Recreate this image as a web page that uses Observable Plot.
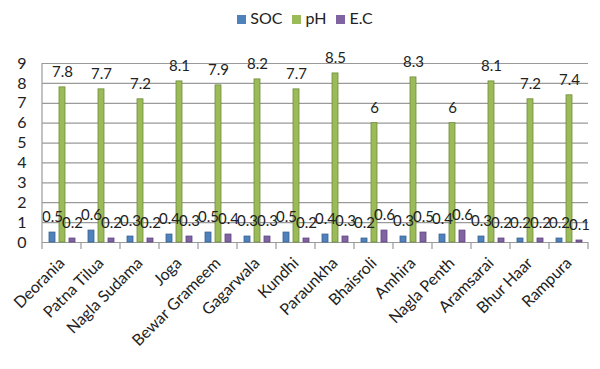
<!DOCTYPE html>
<html><head><meta charset="utf-8">
<script src="https://cdn.jsdelivr.net/npm/d3@7"></script>
<script src="https://cdn.jsdelivr.net/npm/@observablehq/plot@0.6"></script>
<style>
body{margin:0;background:#fff;font-family:Lato,"Open Sans",sans-serif;}
#legend{height:40px;display:flex;justify-content:center;align-items:center;gap:10px;font-size:16px;color:#222;padding-left:10px;box-sizing:border-box;padding-bottom:6px}
#legend span.sw{display:inline-block;width:9px;height:9px;margin-right:4px}
</style></head>
<body>
<div id="legend"></div>
<div id="chart"></div>
<script>
const sites = ["Deorania","Patna Tilua","Nagla Sudama","Joga","Bewar Grameem","Gagarwala","Kundhi","Paraunkha","Bhaisroli","Amhira","Nagla Penth","Aramsarai","Bhur Haar","Rampura"];
const soc = [0.5,0.6,0.3,0.4,0.5,0.3,0.5,0.4,0.2,0.3,0.4,0.3,0.2,0.2];
const ph  = [7.8,7.7,7.2,8.1,7.9,8.2,7.7,8.5,6,8.3,6,8.1,7.2,7.4];
const ec  = [0.2,0.2,0.2,0.3,0.4,0.3,0.2,0.3,0.6,0.5,0.6,0.2,0.2,0.1];
const seriesNames = ["SOC","pH","E.C"];
const colors = ["#4F81BD","#9BBB59","#8064A2"];
const strokes = ["#36618f","#6f8c3a","#5c4580"];

const legend = document.getElementById("legend");
seriesNames.forEach((s,i)=>{
  const item = document.createElement("span");
  item.innerHTML = `<span class="sw" style="background:${colors[i]}"></span>${s}`;
  legend.appendChild(item);
});

const vals = [soc, ph, ec];
const data = sites.flatMap((site,i)=>seriesNames.map((s,k)=>({site, series:s, value:vals[k][i]})));

const chart = Plot.plot({
  width:600, height:329,
  marginTop:23, marginBottom:127, marginLeft:40, marginRight:10,
  style:{fontFamily:"Lato, 'Open Sans', sans-serif", color:"#222", background:"#fff"},
  fx:{domain:sites, padding:0, label:null},
  x:{domain:seriesNames, axis:null, paddingInner:0.45, paddingOuter:0.5},
  y:{domain:[0,9], label:null},
  color:{domain:seriesNames, range:colors},
  marks:[
    Plot.gridY({ticks:d3.range(0,10), stroke:"#9a9a9a", strokeOpacity:1, strokeWidth:1.2}),
    Plot.ruleY([0], {stroke:"#9a9a9a", strokeWidth:1.2}),
    Plot.axisY({ticks:d3.range(0,10), tickSize:0, tickPadding:16, fontSize:16, label:null}),
    Plot.axisFx({anchor:"bottom", tickRotate:-45, tickSize:0, fontSize:16, tickPadding:18, label:null}),
    Plot.barY(data, {fx:"site", x:"series", y:"value", fill:"series",
      stroke:d=>strokes[seriesNames.indexOf(d.series)], strokeWidth:0.8}),
    Plot.text(data, {fx:"site", x:"series", y:"value", text:d=>String(d.value), dy:-15, fontSize:15, fill:"#222"})
  ]
});
// wall edge and category boundary ticks, positioned from the plot's own scales
const fxs = chart.scale("fx"), ys = chart.scale("y");
const svg = d3.select(chart);
const g = svg.append("g").attr("stroke","#9a9a9a").attr("stroke-width",1.2);
const y0 = ys.apply(0), y9 = ys.apply(9);
const left = fxs.apply(sites[0]);
g.append("line").attr("x1",left).attr("x2",left).attr("y1",y9).attr("y2",y0);
sites.forEach(s=>{
  const x = fxs.apply(s);
  g.append("line").attr("x1",x).attr("x2",x).attr("y1",y0).attr("y2",y0+7);
});
const right = fxs.apply(sites[sites.length-1]) + fxs.bandwidth;
g.append("line").attr("x1",right).attr("x2",right).attr("y1",y0).attr("y2",y0+7);
document.getElementById("chart").appendChild(chart);
</script>
</body></html>
